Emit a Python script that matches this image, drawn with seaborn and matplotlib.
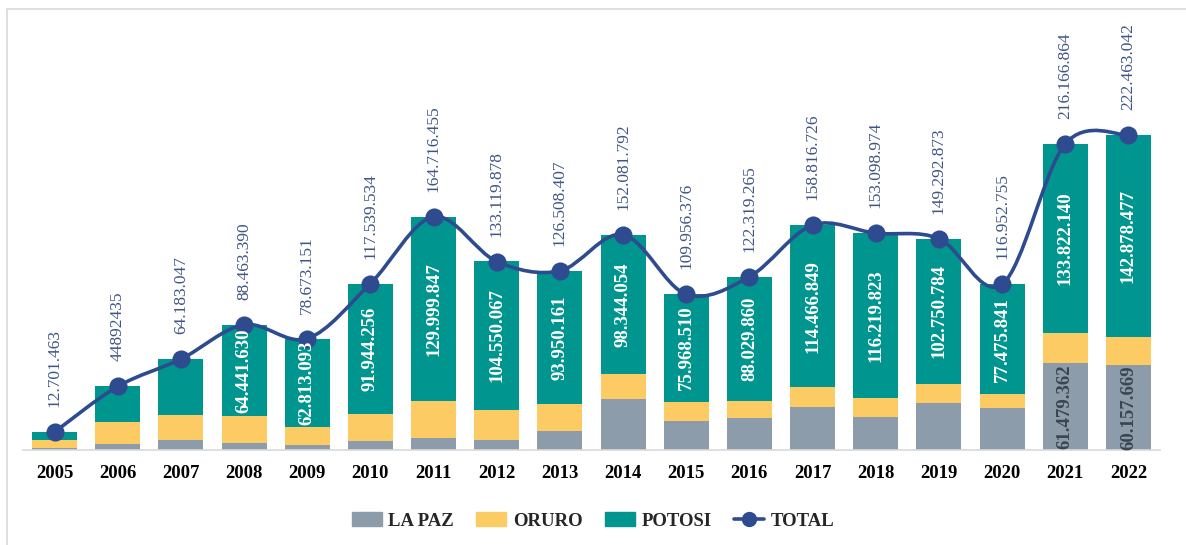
import numpy as np
import pandas as pd
import matplotlib
matplotlib.use("Agg")
import matplotlib.pyplot as plt
from matplotlib.path import Path
from matplotlib.patches import PathPatch, Patch
from matplotlib.lines import Line2D
import seaborn as sns

# data
years = [str(y) for y in range(2005, 2023)]
la_paz = [1.6e6, 4.2e6, 7.1e6, 5.2e6, 3.5e6, 6.4e6, 8.7e6, 7.1e6, 13.6e6,
          35.8e6, 20.7e6, 22.4e6, 30.1e6, 23.5e6, 33.0e6, 29.4e6,
          61479362, 60157669]
oruro = [5.4e6, 15.7e6, 17.7e6, 18.8e6, 12.4e6, 19.2e6, 26.0e6, 21.5e6, 19.0e6,
         17.9e6, 13.3e6, 11.9e6, 14.3e6, 13.4e6, 13.5e6, 10.1e6,
         20.9e6, 19.4e6]
potosi = [5.7e6, 25.0e6, 39.4e6, 64441630, 62813093, 91944256, 129999847,
          104550067, 93950161, 98344054, 75968510, 88029860, 114466849,
          116219823, 102750784, 77475841, 133822140, 142878477]
total = [12701463, 44892435, 64183047, 88463390, 78673151, 117539534,
         164716455, 133119878, 126508407, 152081792, 109956376, 122319265,
         158816726, 153098974, 149292873, 116952755, 216166864, 222463042]
potosi_labeled = years[3:]          # no label on the small early bars
la_paz_labeled = ["2021", "2022"]
plain_total_label = ["2006"]        # shown without thousand separators

C_LAPAZ = "#8C9CAA"
C_ORURO = "#FDCB63"
C_POTOSI = "#00968F"
C_TOTAL = "#2E4B8F"
C_TLABEL = "#3E5585"
SERIF = "Liberation Serif"


def fmt(v):
    return f"{int(round(v)):,}".replace(",", ".")


df = pd.DataFrame({"year": years, "la_paz": la_paz, "oruro": oruro,
                   "potosi": potosi, "total": total})
df["s1"] = df["la_paz"]
df["s2"] = df["s1"] + df["oruro"]
df["s3"] = df["s2"] + df["potosi"]

sns.set_theme(style="white")
plt.rcParams["font.family"] = [SERIF, "DejaVu Serif"]

fig = plt.figure(figsize=(11.86, 5.45), dpi=100)
ax = fig.add_axes([23 / 1186, 1 - 450 / 545, (1160 - 23) / 1186, 420 / 545])

# stacked bars drawn back to front
for col, c in [("s3", C_POTOSI), ("s2", C_ORURO), ("s1", C_LAPAZ)]:
    sns.barplot(data=df, x="year", y=col, color=c, saturation=1, width=0.71,
                linewidth=0, ax=ax, errorbar=None)

# smoothed total line (Bezier through the points, like the original)
xs = np.arange(len(years), dtype=float)
pts = np.column_stack([xs, np.array(total, dtype=float)])
verts = [tuple(pts[0])]
codes = [Path.MOVETO]
n = len(pts)
for i in range(n - 1):
    p0, p1, p2, p3 = pts[max(i - 1, 0)], pts[i], pts[i + 1], pts[min(i + 2, n - 1)]
    verts += [tuple(p1 + (p2 - p0) / 6), tuple(p2 - (p3 - p1) / 6), tuple(p2)]
    codes += [Path.CURVE4] * 3
ax.add_patch(PathPatch(Path(verts, codes), facecolor="none", edgecolor=C_TOTAL,
                       lw=2.6, zorder=4, capstyle="round"))
sns.scatterplot(x=xs, y=total, color=C_TOTAL, s=170, edgecolor=C_TOTAL,
                linewidth=0, zorder=5, ax=ax, legend=False)

# labels
for i, row in df.iterrows():
    if row["year"] in plain_total_label:
        t = str(int(row["total"]))
    else:
        t = fmt(row["total"])
    ax.annotate(t, (i, row["total"]), xytext=(0, 18), textcoords="offset points",
                rotation=90, ha="center", va="bottom", fontsize=12.5,
                color=C_TLABEL, family=SERIF)
    if row["year"] in potosi_labeled:
        ax.text(i, row["s2"] + row["potosi"] / 2, fmt(row["potosi"]), rotation=90,
                ha="center", va="center", fontsize=13.5, fontweight="bold",
                color="white", family=SERIF, zorder=6)
    if row["year"] in la_paz_labeled:
        ax.text(i, row["la_paz"] / 2, fmt(row["la_paz"]), rotation=90,
                ha="center", va="center", fontsize=13.5, fontweight="bold",
                color="#3A4550", family=SERIF, zorder=6)

ax.set_xlim(-0.5, len(years) - 0.5)
ax.set_ylim(0, 420 / 1.416 * 1e6)
ax.set_xlabel("")
ax.set_ylabel("")
ax.set_yticks([])
for s in ["top", "left", "right"]:
    ax.spines[s].set_visible(False)
ax.spines["bottom"].set_color("#D9D9D9")
ax.spines["bottom"].set_linewidth(1.2)
ax.tick_params(axis="x", length=0, pad=10.5)
for lab in ax.get_xticklabels():
    lab.set_fontweight("bold")
    lab.set_fontsize(13.5)
    lab.set_family(SERIF)
    lab.set_color("black")

handles = [Patch(color=C_LAPAZ, label="LA PAZ"),
           Patch(color=C_ORURO, label="ORURO"),
           Patch(color=C_POTOSI, label="POTOSI"),
           Line2D([0], [0], color=C_TOTAL, lw=2.6, marker="o", markersize=10,
                  label="TOTAL")]
fig.legend(handles=handles, loc="center", bbox_to_anchor=(0.5, 1 - 521 / 545),
           ncol=4, frameon=False, handlelength=1.6, handleheight=0.75,
           columnspacing=1.2, handletextpad=0.35,
           prop={"family": SERIF, "weight": "bold", "size": 13.5})

# chart frame (top and left edges visible)
fig.add_artist(Line2D([7 / 1186, 1], [1 - 9 / 545] * 2, transform=fig.transFigure,
                      color="#D9D9D9", lw=1.2))
fig.add_artist(Line2D([7 / 1186] * 2, [0, 1 - 9 / 545], transform=fig.transFigure,
                      color="#D9D9D9", lw=1.2))

fig.savefig("out.png", dpi=100)
